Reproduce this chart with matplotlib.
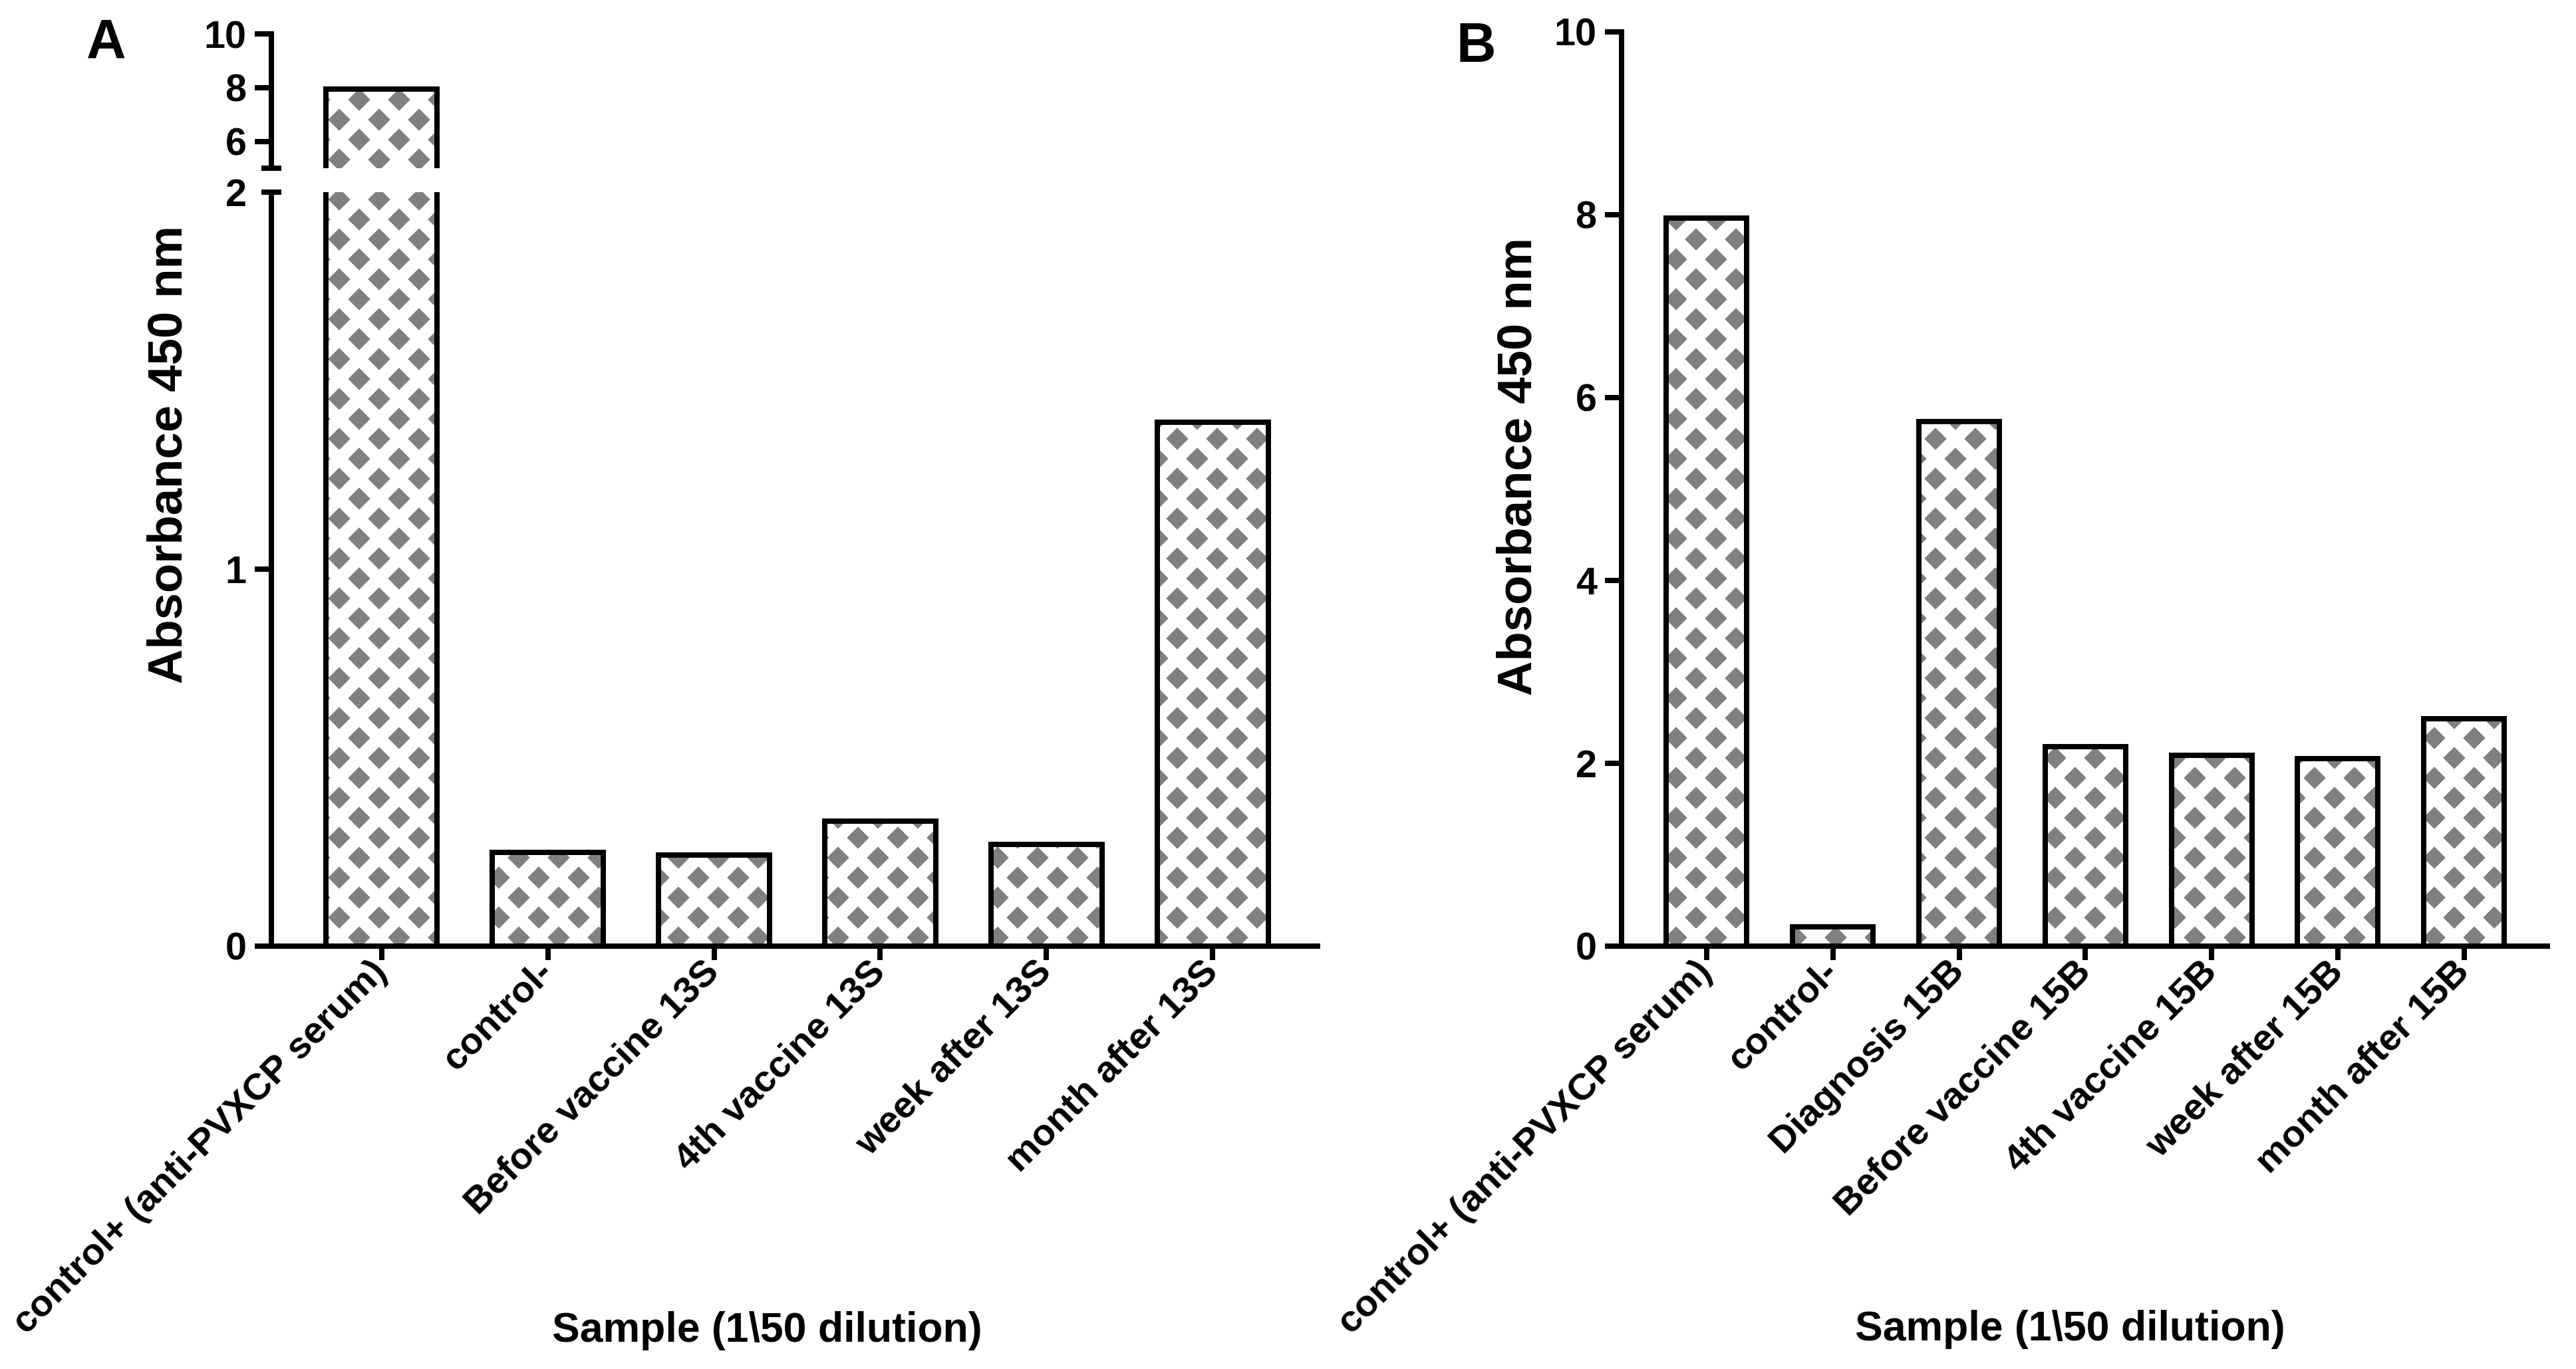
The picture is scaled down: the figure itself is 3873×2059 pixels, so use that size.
import numpy as np
import matplotlib
matplotlib.use('Agg')
import matplotlib.pyplot as plt

DPI = 180
FONT = ['Liberation Sans', 'DejaVu Sans']

plt.rcParams['font.family'] = FONT
plt.rcParams['font.weight'] = 'bold'
plt.rcParams['hatch.linewidth'] = 7.5

# panel A data
cats_a = ['control+ (anti-PVXCP serum)', 'control-', 'Before vaccine 13S',
          '4th vaccine 13S', 'week after 13S', 'month after 13S']
vals_a = [7.95, 0.249, 0.242, 0.332, 0.269, 1.39]
ticks_a_low = [0, 1, 2]
ticks_a_up = [6, 8, 10]

# panel B data
cats_b = ['control+ (anti-PVXCP serum)', 'control-', 'Diagnosis 15B',
          'Before vaccine 15B', '4th vaccine 15B', 'week after 15B',
          'month after 15B']
vals_b = [7.96, 0.21, 5.74, 2.18, 2.09, 2.05, 2.49]
ticks_b = [0, 2, 4, 6, 8, 10]

LW = 3.2
DOT = '#808080'


def hatched_bars(ax, x, vals, width):
    # gray fill cut by wide white diagonal lines -> diamond dot pattern
    ax.bar(x, vals, width=width, color=DOT, edgecolor='white',
           hatch='x', linewidth=0, zorder=2)
    ax.bar(x, vals, width=width, fill=False, edgecolor='black',
           linewidth=LW, zorder=3)


def style_axis(ax):
    for s in ['top', 'right']:
        ax.spines[s].set_visible(False)
    for s in ['left', 'bottom']:
        ax.spines[s].set_linewidth(LW)
    ax.tick_params(axis='y', length=10, width=LW, labelsize=23, pad=5)
    ax.tick_params(axis='x', length=8.4, width=LW, labelsize=22.5, pad=4)


fig = plt.figure(figsize=(3873 / DPI, 2059 / DPI), dpi=DPI)

# ---- panel A: broken y axis ----
xa = np.arange(len(cats_a))
ax_low = fig.add_axes([0.10534, 0.30889, 0.40615, 0.55075])
ax_up = fig.add_axes([0.10534, 0.87713, 0.40615, 0.0981])

hatched_bars(ax_low, xa, vals_a, 0.668)
hatched_bars(ax_up, xa, vals_a, 0.668)

ax_low.set_ylim(0, 2)
ax_up.set_ylim(5, 10)
for ax in (ax_low, ax_up):
    ax.set_xlim(-0.664, 5.632)
    style_axis(ax)

ax_low.set_yticks(ticks_a_low)
ax_low.yaxis.get_major_ticks()[-1].tick1line.set_visible(False)
ax_low.set_xticks(xa)
ax_low.set_xticklabels(cats_a, rotation=45, ha='right', va='center',
                       rotation_mode='anchor')

ax_up.set_yticks(ticks_a_up)
ax_up.spines['bottom'].set_visible(False)
ax_up.set_xticks([])

# break caps on the y axis
ax_low.plot([0], [2], marker='_', ms=12, mew=LW, color='black',
            transform=ax_low.get_yaxis_transform(), clip_on=False, zorder=5)
ax_up.plot([0], [5], marker='_', ms=12, mew=LW, color='black',
           transform=ax_up.get_yaxis_transform(), clip_on=False, zorder=5)

# ---- panel B ----
xb = np.arange(len(cats_b))
ax_b = fig.add_axes([0.62949, 0.30889, 0.35941, 0.66794])
hatched_bars(ax_b, xb, vals_b, 0.637)
ax_b.set_xlim(-0.674, 6.66)
ax_b.set_ylim(0, 10)
style_axis(ax_b)
ax_b.set_yticks(ticks_b)
ax_b.set_xticks(xb)
ax_b.set_xticklabels(cats_b, rotation=45, ha='right', va='center',
                     rotation_mode='anchor')

# labels
fig.text(0.0658, 0.668, 'Absorbance 450 nm', rotation=90, fontsize=29,
         ha='center', va='center')
fig.text(0.5895, 0.6595, 'Absorbance 450 nm', rotation=90, fontsize=29,
         ha='center', va='center')
fig.text(0.2978, 0.020, 'Sample (1\\50 dilution)', fontsize=25,
         ha='center', va='baseline')
fig.text(0.8035, 0.021, 'Sample (1\\50 dilution)', fontsize=25,
         ha='center', va='baseline')
fig.text(0.0336, 0.9573, 'A', fontsize=33, ha='left', va='baseline')
fig.text(0.5652, 0.9548, 'B', fontsize=33, ha='left', va='baseline')

fig.savefig('out.png', dpi=DPI)
